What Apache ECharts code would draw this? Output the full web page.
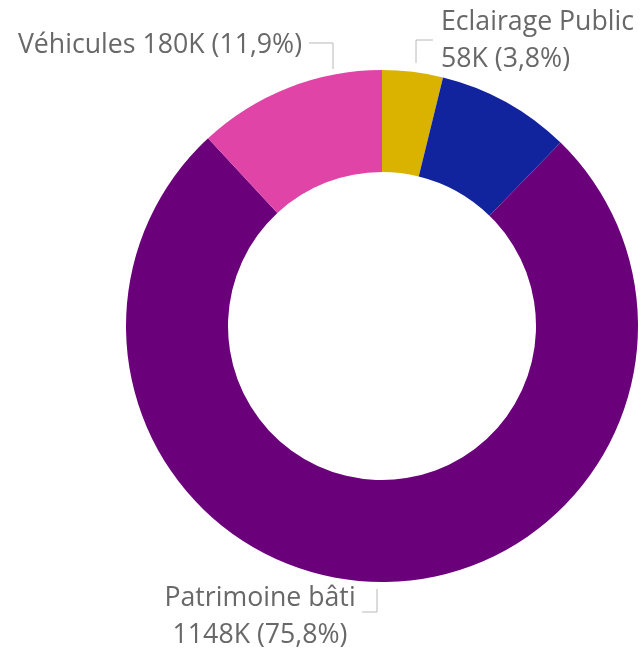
<!DOCTYPE html>
<html>
<head>
<meta charset="utf-8">
<script src="https://cdn.jsdelivr.net/npm/echarts@6/dist/echarts.min.js"></script>
<style>
  html, body { margin: 0; padding: 0; background: #fff; }
  #chart { width: 641px; height: 652px; }
</style>
</head>
<body>
<div id="chart"></div>
<script>
// Categories and values (thousands), clockwise from 12 o'clock
const categories = ['Eclairage Public', 'Autres', 'Patrimoine bâti', 'Véhicules'];
const values = [58, 128, 1148, 180];
const colors = ['#D9B300', '#12239E', '#6B007B', '#E044A7'];
const showLabel = [true, false, true, true];

// Label placement: anchor, alignment, line-break style and leader-line points
const labelPlacement = {
  0: { x: 441, y: 41, align: 'left', sep: '\n', line: [[416, 63], [416, 40], [433, 40]] },
  2: { x: 260, y: 617, align: 'center', sep: '\n', line: [[377, 589], [377, 612], [362, 612]] },
  3: { x: 302, y: 45, align: 'right', sep: ' ', line: [[333, 69], [333, 43], [309, 43]] }
};

const total = values.reduce((a, b) => a + b, 0);
const pct = v => (v / total * 100).toFixed(1).replace('.', ',');

const chart = echarts.init(document.getElementById('chart'), null, { renderer: 'canvas' });

chart.setOption({
  animation: false,
  series: [{
    type: 'pie',
    center: [382, 326],
    radius: [154, 256],
    startAngle: 90,
    clockwise: true,
    avoidLabelOverlap: false,
    data: categories.map((name, i) => ({
      name: name,
      value: values[i],
      itemStyle: { color: colors[i] },
      label: { show: showLabel[i] },
      labelLine: { show: showLabel[i] }
    })),
    label: {
      position: 'outside',
      color: '#686868',
      fontFamily: 'Open Sans',
      fontSize: 26.7,
      lineHeight: 37,
      formatter: p => {
        const sep = (labelPlacement[p.dataIndex] || {}).sep || '\n';
        return p.name + sep + p.value + 'K (' + pct(p.value) + '%)';
      }
    },
    labelLine: {
      lineStyle: { color: '#B8B8B8', width: 1 }
    },
    labelLayout: params => {
      const lp = labelPlacement[params.dataIndex];
      if (!lp) return {};
      return {
        x: lp.x,
        y: lp.y,
        align: lp.align,
        verticalAlign: 'middle',
        labelLinePoints: lp.line
      };
    },
    emphasis: { disabled: true }
  }]
});
</script>
</body>
</html>
